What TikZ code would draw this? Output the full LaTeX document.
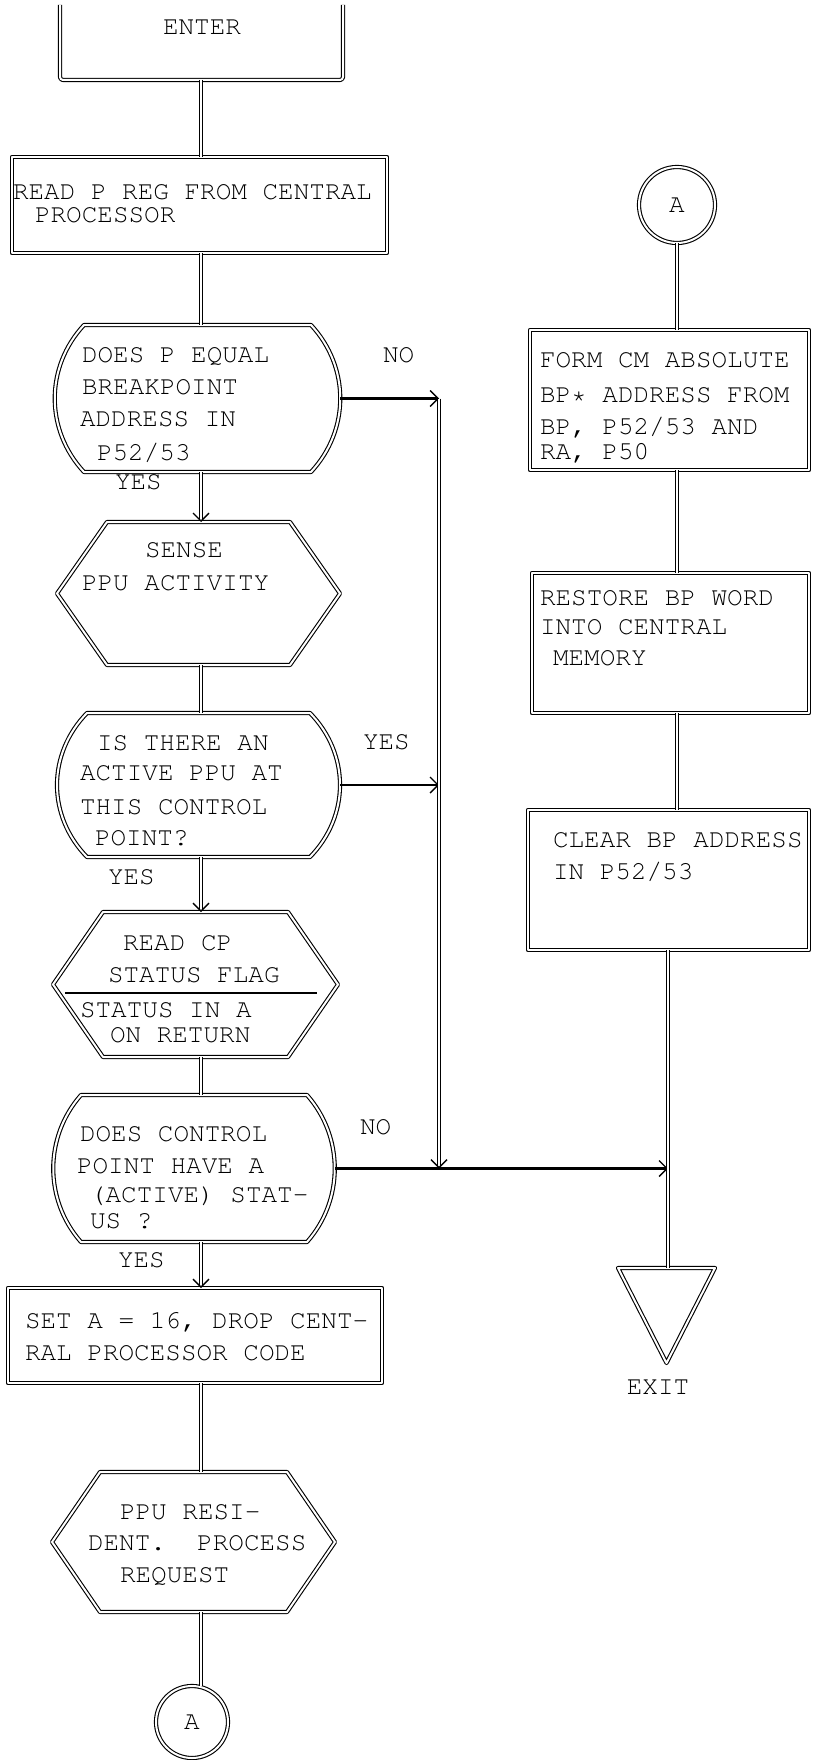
\documentclass[tikz,border=0pt]{standalone}
\usetikzlibrary{calc,arrows.meta}
\newcommand{\twfont}{\fontencoding{OT1}\fontfamily{pcr}\fontseries{m}\fontshape{n}\fontsize{26}{32}\selectfont\frenchspacing}
\newcommand{\hexpath}[2]{%
  \draw[shapeline] (#1.west) -- ($(#1.north west)+(#2,0)$) -- ($(#1.north east)+(-#2,0)$) -- (#1.east)
    -- ($(#1.south east)+(-#2,0)$) -- ($(#1.south west)+(#2,0)$) -- cycle;}
\newcommand{\decpath}[4]{%
  \draw[shapeline] ($(#1.north west)+(#2,0)$) -- ($(#1.north east)+(-#2,0)$)
    .. controls ($(#1.north east)+(-#2+#3,#4)$) and ($(#1.south east)+(-#2+#3,-#4)$) .. ($(#1.south east)+(-#2,0)$)
    -- ($(#1.south west)+(#2,0)$)
    .. controls ($(#1.south west)+(#2-#3,-#4)$) and ($(#1.north west)+(#2-#3,#4)$) .. ($(#1.north west)+(#2,0)$) -- cycle;}
\begin{document}
\begin{tikzpicture}[x=1pt,y=-1pt,
  shapeline/.style={draw, line width=1.1pt, double, double distance=2pt, line join=round},
  conn/.style={line width=1pt, double, double distance=2pt},
  tipv/.style={-{Straight Barb[length=8pt,width=16pt,line width=1.4pt]}},
  harrow/.style={line width=2.4pt, tipv},
  frame/.style={draw=none, inner sep=0pt, outer sep=0pt},
  box/.style={shapeline, inner sep=0pt, outer sep=0pt},
  txt/.style={font=\twfont, inner sep=0pt, outer sep=0pt, align=left, anchor=north west},
  lbl/.style={font=\twfont, inner sep=0pt, outer sep=0pt, anchor=north west}]
\useasboundingbox (0,0) rectangle (813,1760);
\fill[white] (0,0) rectangle (813,1760);

\coordinate (lc) at (201,0);
\coordinate (rc) at (677,0);
\coordinate (xc) at (668,0);
\coordinate (jc) at (439,0);

% left column shapes
\node[frame, minimum width=283pt, minimum height=75pt] (enter) at (201.5,42.5) {};
\draw[shapeline, rounded corners=3pt] (enter.north west) -- (enter.south west) -- (enter.south east) -- (enter.north east);
\node[font=\twfont, inner sep=0pt] (t-enter) at (202,27) {ENTER};

\node[box, minimum width=375pt, minimum height=96pt] (read) at (199.5,205) {};
\node[txt] (t-read) at (13,184.5) {READ P REG FROM CENTRAL\\[-9pt]\hspace*{22pt}PROCESSOR};

\node[frame, minimum width=285pt, minimum height=147pt] (d1) at (197.5,398.5) {};
\decpath{d1}{29}{39}{42}
\node[txt] (t-d1) at (80,347.5) {\hspace*{2pt}DOES P EQUAL\\\hspace*{2pt}BREAKPOINT\\ADDRESS IN\\[2pt]\hspace*{17pt}P52/53};
\node[lbl] (l-d1-no) at (383,347.5) {NO};
\node[lbl] (l-d1-yes) at (115,474.5) {YES};

\node[frame, minimum width=283pt, minimum height=143pt] (sense) at (198.5,593.5) {};
\hexpath{sense}{50}
\node[txt] (t-sense) at (82,542.5) {\hspace*{63pt}SENSE\\[1pt]PPU ACTIVITY};

\node[frame, minimum width=283pt, minimum height=144pt] (d2) at (198.5,785) {};
\decpath{d2}{30}{40}{41}
\node[txt] (t-d2) at (80,735.5) {\hspace*{17pt}IS THERE AN\\[-2pt]ACTIVE PPU AT\\[2pt]THIS CONTROL\\[-1pt]\hspace*{15pt}POINT?};
\node[lbl] (l-d2-yes-r) at (363,734.5) {YES};
\node[lbl] (l-d2-yes) at (108,869.5) {YES};

\node[frame, minimum width=285pt, minimum height=145pt] (readcp) at (195.5,984.5) {};
\hexpath{readcp}{50}
\draw[line width=2pt] ($(readcp.west)+(12,8.5)$) -- ($(readcp.east)+(-21,8.5)$);
\node[txt] (t-readcp) at (80,935.5) {\hspace*{43pt}READ CP\\\hspace*{28pt}STATUS FLAG\\[3pt]STATUS IN A\\[-7pt]\hspace*{30pt}ON RETURN};

\node[frame, minimum width=282pt, minimum height=147pt] (d3) at (194,1168.5) {};
\decpath{d3}{28}{37}{42}
\node[txt] (t-d3) at (77,1126) {\hspace*{3pt}DOES CONTROL\\POINT HAVE A\\[-3pt]\hspace*{13pt}(ACTIVE) STAT-\\[-6pt]\hspace*{13pt}US ?};
\node[lbl] (l-d3-no) at (360,1119.5) {NO};
\node[lbl] (l-d3-yes) at (118,1252.5) {YES};

\node[box, minimum width=374pt, minimum height=95pt] (set) at (195,1335.5) {};
\node[txt] (t-set) at (25,1312.5) {SET A = 16, DROP CENT-\\RAL PROCESSOR CODE};

\node[frame, minimum width=283pt, minimum height=140pt] (ppu) at (193.5,1542) {};
\hexpath{ppu}{48}
\node[txt] (t-ppu) at (88,1504.5) {\hspace*{32pt}PPU RESI-\\[-1pt]DENT.\ \ PROCESS\\\hspace*{32pt}REQUEST};

\node[circle, box, minimum size=72pt, font=\twfont] (abot) at (192,1722) {A};

% right column shapes
\node[circle, box, minimum size=76pt, font=\twfont] (atop) at (677,205) {A};

\node[box, minimum width=279pt, minimum height=140pt] (form) at (669.5,400) {};
\node[txt] (t-form) at (540,352.5) {FORM CM ABSOLUTE\\[3pt]BP* ADDRESS FROM\\BP, P52/53 AND\\[-7pt]RA, P50};

\node[box, minimum width=277pt, minimum height=140pt] (restore) at (670.5,643) {};
\node[txt] (t-restore) at (540,590.5) {RESTORE BP WORD\\[-3pt]INTO CENTRAL\\[-1pt]\hspace*{13pt}MEMORY};

\node[box, minimum width=281pt, minimum height=140pt] (clear) at (668.5,880) {};
\node[txt] (t-clear) at (553,832.5) {CLEAR BP ADDRESS\\IN P52/53};

\node[frame, minimum width=97pt, minimum height=95pt] (exit) at (666.5,1315.5) {};
\draw[shapeline] (exit.north west) -- (exit.north east) -- (exit.south) -- cycle;
\node[font=\twfont, inner sep=0pt] (t-exit) at (658,1387) {EXIT};

% connectors, left column
\draw[conn] (lc |- enter.south) -- (lc |- read.north);
\draw[conn] (lc |- read.south) -- (lc |- d1.north);
\draw[conn, tipv] (lc |- d1.south) -- (lc |- sense.north);
\draw[conn] (lc |- sense.south) -- (lc |- d2.north);
\draw[conn, tipv] (lc |- d2.south) -- (lc |- readcp.north);
\draw[conn] (lc |- readcp.south) -- (lc |- d3.north);
\draw[conn, tipv] (lc |- d3.south) -- (lc |- set.north);
\draw[conn] (lc |- set.south) -- (lc |- ppu.north);
\draw[conn] (lc |- ppu.south) -- (lc |- abot.north);

% branches
\draw[harrow] (d1.east) -- (jc |- d1.east);
\draw[harrow] (d2.east) -- (jc |- d2.east);
\draw[conn, tipv] (jc |- d1.east) -- (jc |- d3.east);
\draw[harrow] (d3.east) -- (xc |- d3.east);

% connectors, right column
\draw[conn] (rc |- atop.south) -- (rc |- form.north);
\draw[conn] (rc |- form.south) -- (rc |- restore.north);
\draw[conn] (rc |- restore.south) -- (rc |- clear.north);
\draw[conn] (xc |- clear.south) -- (xc |- exit.north);
\end{tikzpicture}
\end{document}
